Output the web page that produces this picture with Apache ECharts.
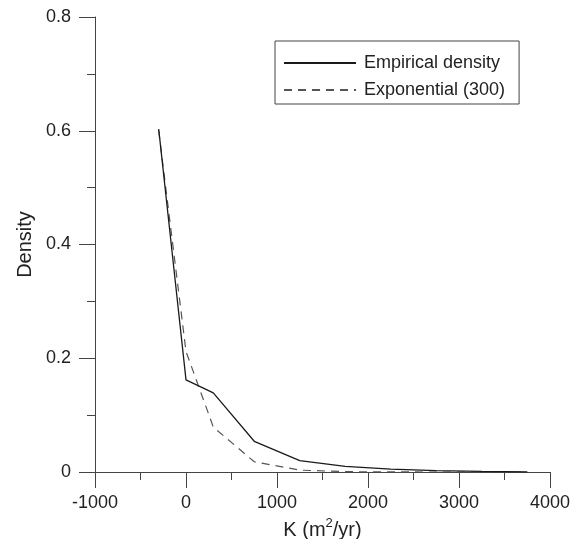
<!DOCTYPE html>
<html>
<head>
<meta charset="utf-8">
<script src="https://cdn.jsdelivr.net/npm/echarts@6/dist/echarts.min.js"></script>
<style>
html,body{margin:0;padding:0;background:#fff;}
#chart{width:579px;height:539px;}
</style>
</head>
<body>
<div id="chart"></div>
<script>
// Data
const kValues = [-300, 0, 300, 750, 1250, 1750, 2250, 2750, 3250, 3750];
const empiricalDensity = [0.603, 0.162, 0.139, 0.054, 0.020, 0.0098, 0.005, 0.0025, 0.001, 0.0003];
const exponentialDensity = [0.600, 0.212, 0.079, 0.018, 0.0033, 0.0006, 0.0001, 0.00002, 0, 0];
const seriesNames = ['Empirical density', 'Exponential (300)'];

const FONT = '"Liberation Sans", Arial, sans-serif';
const chart = echarts.init(document.getElementById('chart'), null, {renderer: 'canvas'});

function pairs(xs, ys) { return xs.map((x, i) => [x, ys[i]]); }

chart.setOption({
  animation: false,
  backgroundColor: '#fff',
  grid: {left: 95, top: 17, width: 455, height: 455, containLabel: false, outerBoundsMode: 'none'},
  legend: {
    orient: 'vertical',
    left: 275, top: 41,
    padding: [13, 14, 5, 8],
    itemGap: 9,
    itemWidth: 72, itemHeight: 14,
    borderColor: '#444', borderWidth: 1,
    itemStyle: {opacity: 0, color: 'rgba(0,0,0,0)', borderWidth: 0},
    textStyle: {fontFamily: FONT, fontSize: 18, color: '#222', padding: [0, 0, 0, 3], lineHeight: 18},
    data: seriesNames
  },
  xAxis: {
    type: 'value', min: -1000, max: 4000, interval: 1000,
    name: '{a|K (m}{s|2}{a|/yr)}',
    nameLocation: 'middle', nameGap: 45,
    nameTextStyle: {
      fontFamily: FONT, color: '#222',
      rich: {
        a: {fontFamily: FONT, fontSize: 20, color: '#222', verticalAlign: 'bottom'},
        s: {fontFamily: FONT, fontSize: 13, color: '#222', verticalAlign: 'top', padding: [0, 0, 10, 0]}
      }
    },
    axisLine: {show: true, onZero: false, lineStyle: {color: '#444', width: 1}},
    axisTick: {show: true, inside: false, length: 16, lineStyle: {color: '#444', width: 1}},
    minorTick: {show: true, splitNumber: 2, length: 8, lineStyle: {color: '#444', width: 1}},
    axisLabel: {fontFamily: FONT, fontSize: 18, color: '#222', margin: 22, formatter: v => String(v)},
    splitLine: {show: false}
  },
  yAxis: {
    type: 'value', min: 0, max: 0.8, interval: 0.2,
    name: 'Density',
    nameLocation: 'middle', nameGap: 60, nameRotate: 90,
    nameTextStyle: {fontFamily: FONT, fontSize: 20, color: '#222'},
    axisLine: {show: true, onZero: false, lineStyle: {color: '#444', width: 1}},
    axisTick: {show: true, inside: false, length: 16, lineStyle: {color: '#444', width: 1}},
    minorTick: {show: true, splitNumber: 2, length: 8, lineStyle: {color: '#444', width: 1}},
    axisLabel: {fontFamily: FONT, fontSize: 18, color: '#222', margin: 24, formatter: v => String(Math.round(v * 10) / 10)},
    splitLine: {show: false}
  },
  series: [
    {
      name: seriesNames[0], type: 'line', symbol: 'none',
      data: pairs(kValues, empiricalDensity),
      lineStyle: {color: '#1a1a1a', width: 1.3, type: 'solid'},
      itemStyle: {color: '#1a1a1a'},
      z: 3
    },
    {
      name: seriesNames[1], type: 'line', symbol: 'none',
      data: pairs(kValues, exponentialDensity),
      lineStyle: {color: '#555', width: 1.2, type: [8, 6]},
      itemStyle: {color: '#555'},
      z: 2
    }
  ]
});
</script>
</body>
</html>
